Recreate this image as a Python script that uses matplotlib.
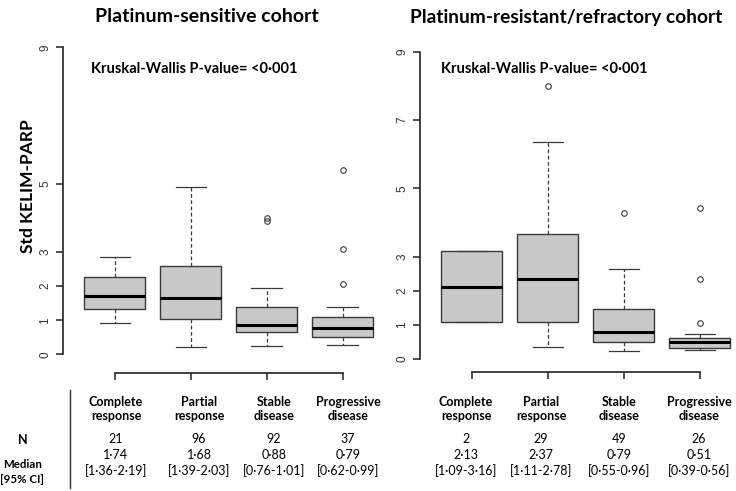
import matplotlib
matplotlib.use("Agg")
import matplotlib.pyplot as plt

plt.rcParams['font.family'] = ['Lato', 'DejaVu Sans']

# response categories
categories = ["Complete\nresponse", "Partial\nresponse", "Stable\ndisease", "Progressive\ndisease"]

# platinum-sensitive cohort: box stats
sens_q1 = [1.34, 1.04, 0.65, 0.50]
sens_med = [1.72, 1.66, 0.86, 0.77]
sens_q3 = [2.26, 2.59, 1.38, 1.10]
sens_lo = [0.91, 0.20, 0.24, 0.27]
sens_hi = [2.85, 4.89, 1.93, 1.38]
sens_out = [[], [], [3.91, 3.99], [2.06, 3.08, 5.40]]
sens_n = ["21", "96", "92", "37"]
sens_median = ["1·74", "1·68", "0·88", "0·79"]
sens_ci = ["[1·36-2·19]", "[1·39-2·03]", "[0·76-1·01]", "[0·62-0·99]"]
sens_yticks = [0, 1, 2, 3, 5, 9]

# platinum-resistant/refractory cohort
res_q1 = [1.08, 1.07, 0.50, 0.33]
res_med = [2.12, 2.35, 0.78, 0.50]
res_q3 = [3.16, 3.67, 1.47, 0.62]
res_lo = [1.08, 0.35, 0.23, 0.25]
res_hi = [3.16, 6.35, 2.64, 0.74]
res_out = [[], [7.99], [4.27], [1.05, 2.33, 4.43]]
res_n = ["2", "29", "49", "26"]
res_median = ["2·13", "2·37", "0·79", "0·51"]
res_ci = ["[1·09-3·16]", "[1·11-2·78]", "[0·55-0·96]", "[0·39-0·56]"]
res_yticks = [0, 1, 2, 3, 5, 7, 9]

W, H = 736, 491
fig = plt.figure(figsize=(W / 100, H / 100), dpi=100)


def px(x, y):
    return x / W, 1 - y / H


def panel(rect, q1, med, q3, lo, hi, out, yticks, xaxis_y):
    ax = fig.add_axes(rect)
    stats = []
    for i in range(len(med)):
        stats.append(dict(q1=q1[i], med=med[i], q3=q3[i], whislo=lo[i],
                          whishi=hi[i], fliers=out[i]))
    ax.bxp(stats, positions=[1, 2, 3, 4], widths=0.8, patch_artist=True,
           boxprops=dict(facecolor="#c9c9c9", edgecolor="#3a3a3a", linewidth=1.0),
           medianprops=dict(color="black", linewidth=2.2),
           whiskerprops=dict(color="#3a3a3a", linewidth=0.9, linestyle=(0, (3, 2))),
           capprops=dict(color="#3a3a3a", linewidth=0.9),
           flierprops=dict(marker="o", markersize=4, markerfacecolor="none",
                           markeredgecolor="#3a3a3a", markeredgewidth=0.8),
           capwidths=0.4)
    ax.set_xlim(0.3, 4.7)
    ax.set_ylim(-0.7, 9.5)
    for s in ["top", "right"]:
        ax.spines[s].set_visible(False)
    ax.spines["left"].set_position(("data", 0.32))
    ax.spines["left"].set_bounds(0, 9)
    ax.spines["bottom"].set_position(("data", xaxis_y))
    ax.spines["bottom"].set_bounds(1, 4)
    for s in ["left", "bottom"]:
        ax.spines[s].set_linewidth(1.2)
        ax.spines[s].set_color("#222222")
    ax.set_yticks(yticks)
    ax.set_yticklabels([str(t) for t in yticks], rotation=90, va="center",
                       family=["Liberation Sans"], color="#333333", fontsize=8.5)
    ax.set_xticks([1, 2, 3, 4])
    ax.set_xticklabels([])
    ax.tick_params(axis="both", length=5, width=1.1, color="#222222")
    ax.patch.set_visible(False)
    return ax


ax1 = panel([61.5 / W, 1 - 378.2 / H, 334.4 / W, 348.0 / H],
            sens_q1, sens_med, sens_q3, sens_lo, sens_hi, sens_out, sens_yticks, -0.54)
ax2 = panel([418.5 / W, 1 - 382.9 / H, 334.4 / W, 348.3 / H],
            res_q1, res_med, res_q3, res_lo, res_hi, res_out, res_yticks, -0.39)

fig.text(*px(207, 17), "Platinum-sensitive cohort", ha="center", va="center",
         fontsize=14, fontweight="bold")
fig.text(*px(566, 17), "Platinum-resistant/refractory cohort", ha="center", va="center",
         fontsize=13.8, fontweight="bold")
fig.text(*px(91, 69), "Kruskal-Wallis P-value= <0·001", ha="left", va="center",
         fontsize=10.5, fontweight="bold")
fig.text(*px(441, 69), "Kruskal-Wallis P-value= <0·001", ha="left", va="center",
         fontsize=10.5, fontweight="bold")
fig.text(*px(28, 186), "Std KELIM-PARP", ha="center", va="center", rotation=90,
         fontsize=12.5, fontweight="bold")

# table under the panels
fig.add_artist(plt.Line2D([70 / W, 70 / W], [1 - 390 / H, 1 - 488 / H],
                          color="#333333", linewidth=1.0))
fig.text(*px(22.5, 440), "N", ha="center", va="center", fontsize=9, fontweight="bold")
fig.text(*px(22.5, 472), "Median\n[95% CI]", ha="center", va="center", fontsize=8.3,
         fontweight="bold", linespacing=1.35)

cols_left = [116, 199, 274, 348]
cols_right = [466, 541, 619, 699]
for cols, n, med, ci in [(cols_left, sens_n, sens_median, sens_ci),
                         (cols_right, res_n, res_median, res_ci)]:
    for i, x in enumerate(cols):
        fig.text(*px(x, 409), categories[i], ha="center", va="center", fontsize=9,
                 fontweight="bold", linespacing=1.3)
        fig.text(*px(x, 439), n[i], ha="center", va="center", fontsize=9)
        fig.text(*px(x, 463), med[i] + "\n" + ci[i], ha="center", va="center",
                 fontsize=9, linespacing=1.25)

fig.savefig("out.png", dpi=100)
